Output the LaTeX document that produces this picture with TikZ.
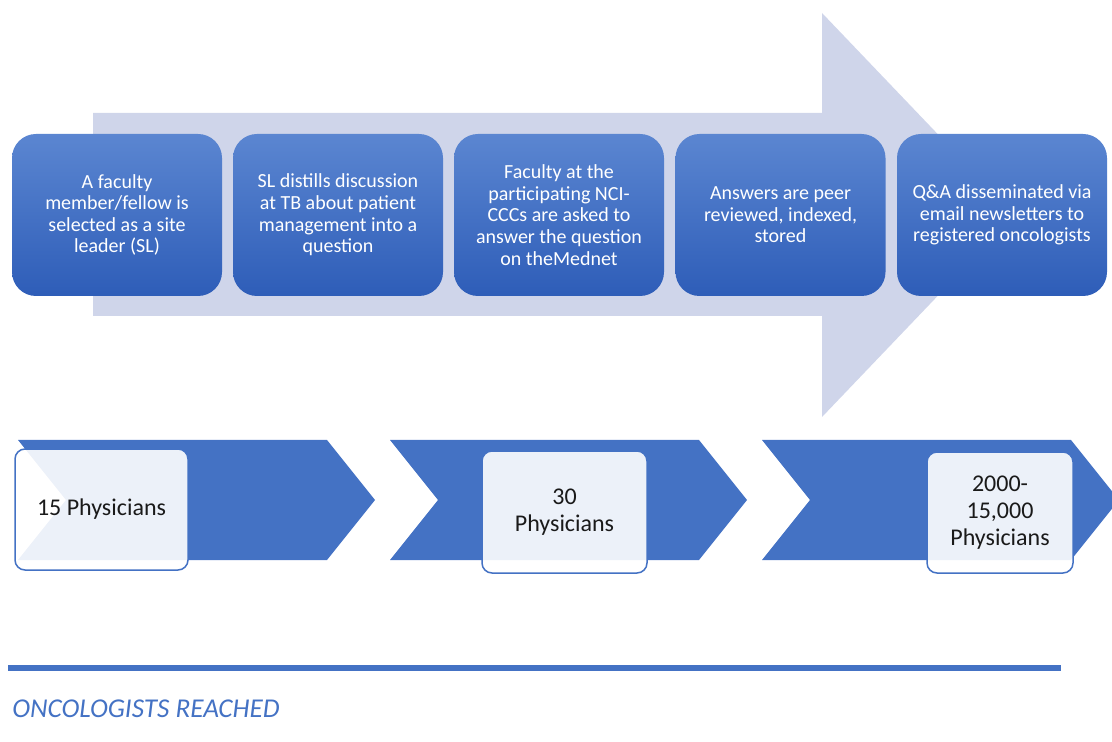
\documentclass[tikz,border=0pt]{standalone}
\usepackage{fontspec}
\setmainfont{Carlito}
\definecolor{arrowbg}{HTML}{CFD5EA}
\definecolor{chev}{HTML}{4472C4}
\definecolor{boxtop}{HTML}{5B86D1}
\definecolor{boxbot}{HTML}{2E5DB8}
\definecolor{txtdark}{HTML}{1A1A1A}
\tikzset{
  stepbox/.style={rounded corners=12pt, top color=boxtop, bottom color=boxbot,
    minimum width=105pt, minimum height=81pt, inner sep=0pt, align=center,
    text=white, font=\fontsize{10}{10.8}\selectfont},
  countbox/.style={rounded corners=5pt, draw=chev, line width=0.75pt,
    fill=white, fill opacity=0.9, text opacity=1, text=txtdark, align=center,
    inner sep=0pt, font=\fontsize{12}{13.6}\selectfont},
  chevron/.style={fill=chev, draw=none}
}
\begin{document}
\begin{tikzpicture}[x=0.5pt,y=-0.5pt]
\useasboundingbox (0,0) rectangle (1112,742);
% big background arrow
\fill[arrowbg] (93,113) -- (822,113) -- (822,13) -- (1015,215) -- (822,417) -- (822,316) -- (93,316) -- cycle;
% step boxes
\node[stepbox] (s1) at (117,215) {A faculty\\member/fellow is\\selected as a site\\leader (SL)};
\node[stepbox] (s2) at (338,215) {SL distills discussion\\at TB about patient\\management into a\\question};
\node[stepbox] (s3) at (559,215) {Faculty at the\\participating NCI-\\CCCs are asked to\\answer the question\\on theMednet};
\node[stepbox] (s4) at (780.5,215) {Answers are peer\\reviewed, indexed,\\stored};
\node[stepbox] (s5) at (1002,215) {Q\&A disseminated via\\email newsletters to\\registered oncologists};
% chevrons
\fill[chevron] (18,440) -- (327,440) -- (375,500) -- (327,560) -- (18,560) -- (66,500) -- cycle;
\fill[chevron] (390,440) -- (699,440) -- (747,500) -- (699,560) -- (390,560) -- (438,500) -- cycle;
\fill[chevron] (762,440) -- (1071,440) -- (1119,500) -- (1071,560) -- (762,560) -- (810,500) -- cycle;
% count boxes
\node[countbox, minimum width=86.5pt, minimum height=60.5pt] (c1) at (101.5,509.5) {15 Physicians};
\node[countbox, minimum width=82.5pt, minimum height=61pt] (c2) at (564.5,512) {30\\Physicians};
\node[countbox, minimum width=73pt, minimum height=60.5pt] (c3) at (1000,512.5) {2000-\\15,000\\Physicians};
% bottom rule and label
\coordinate (l1) at (8,668);
\coordinate (l2) at (1061,668);
\draw[chev, line width=2.6pt] (l1) -- (l2);
\node[anchor=base west, inner sep=0pt, text=chev, font=\fontsize{13.6}{15}\selectfont\itshape] (lab) at (12,717) {ONCOLOGISTS REACHED};
\end{tikzpicture}
\end{document}
